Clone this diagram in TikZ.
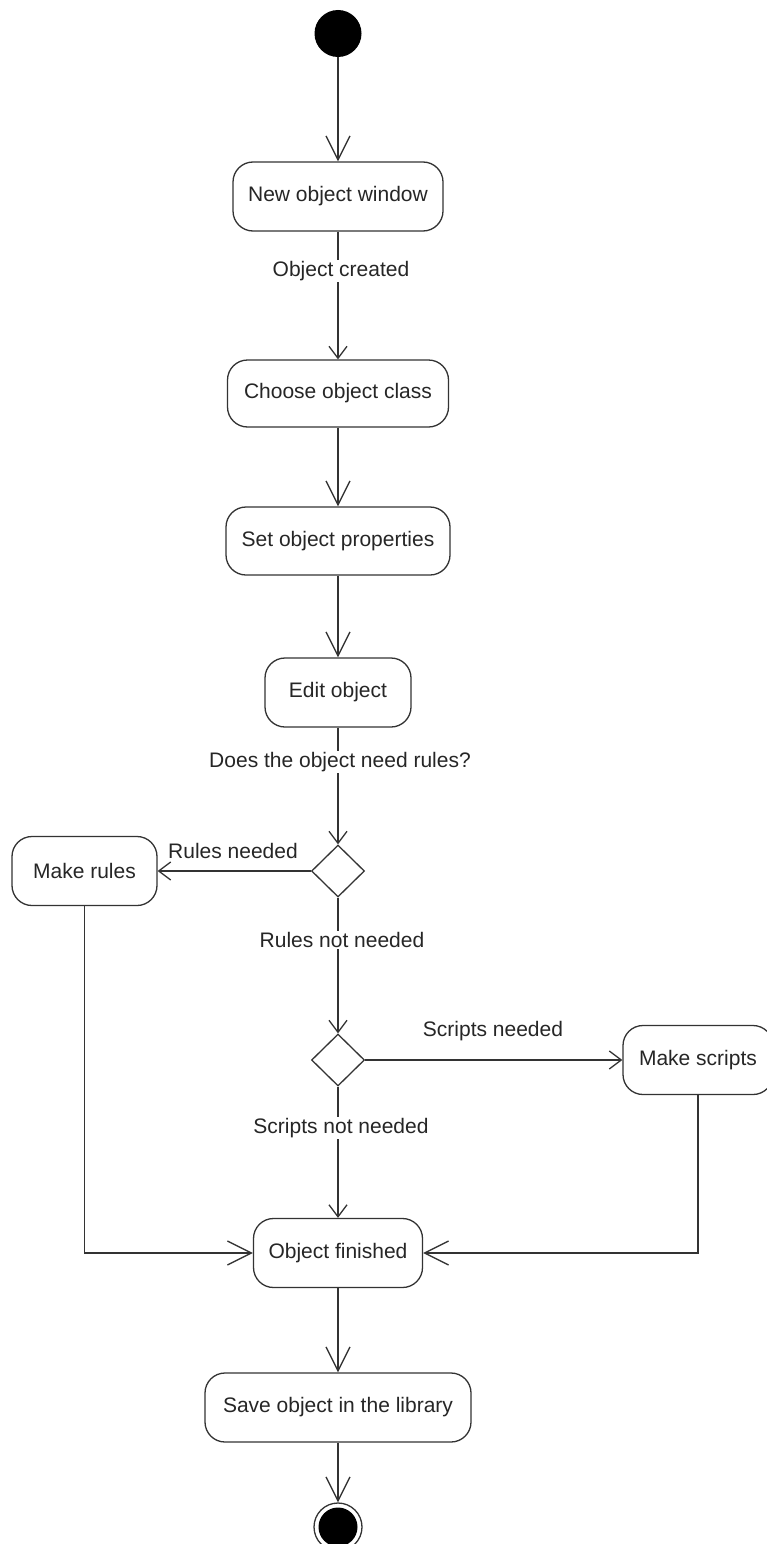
\documentclass[tikz,border=0pt]{standalone}
\usepackage{fontspec}
\setmainfont{Liberation Sans}
\usetikzlibrary{shapes.geometric,arrows.meta}
\begin{document}
\begin{tikzpicture}[x=1pt,y=-1pt,
  every node/.style={font=\fontsize{21}{25}\selectfont, text=black!85},
  act/.style={draw=black!80, line width=1.3pt, rounded corners=20pt, minimum height=69pt, inner sep=0pt, fill=white},
  dec/.style={draw=black!80, line width=1.3pt, diamond, minimum width=53pt, minimum height=52pt, inner sep=0pt, fill=white},
  flow/.style={draw=black!80, line width=1.3pt},
  bigarr/.style={flow, -{Straight Barb[length=24pt,width=24pt]}},
  smallarr/.style={flow, -{Straight Barb[length=12pt,width=18pt]}},
  lbl/.style={fill=white, inner sep=1pt},
  plainlbl/.style={inner sep=1pt},
]
\useasboundingbox (0,0) rectangle (766,1544);

% nodes
\node[circle, fill=black, minimum size=47pt, inner sep=0pt] (start) at (338,33.5) {};
\node[act, minimum width=210pt] (new) at (338,196.5) {New object window};
\node[act, minimum width=221pt, minimum height=67pt] (choose) at (338,393.5) {Choose object class};
\node[act, minimum width=224pt, minimum height=68pt] (props) at (338,541) {Set object properties};
\node[act, minimum width=146pt] (edit) at (338,692.5) {Edit object};
\node[dec] (d1) at (338,871) {};
\node[act, minimum width=145pt] (mrules) at (84.5,871) {Make rules};
\node[dec] (d2) at (338,1060) {};
\node[act, minimum width=150pt] (mscripts) at (698,1060) {Make scripts};
\node[act, minimum width=169pt] (fin) at (338,1253) {Object finished};
\node[act, minimum width=266pt] (save) at (338,1407.5) {Save object in the library};
\node[circle, draw=black!80, line width=1.3pt, minimum size=48pt, inner sep=0pt] (end) at (338,1527) {};
\node[circle, fill=black, minimum size=39pt, inner sep=0pt] (endin) at (338,1527) {};

% connectors
\draw[bigarr] (start) -- (new);
\draw[smallarr] (new) -- (choose);
\draw[bigarr] (choose) -- (props);
\draw[bigarr] (props) -- (edit);
\draw[smallarr] (edit) -- (d1);
\draw[smallarr] (d1) -- (mrules);
\draw[smallarr] (d1) -- (d2);
\draw[smallarr] (d2) -- (mscripts);
\draw[smallarr] (d2) -- (fin);
\draw[bigarr] (mrules.south) |- (fin.west);
\draw[bigarr] (mscripts.south) |- (fin.east);
\draw[bigarr] (fin) -- (save);
\draw[bigarr] (save) -- (end);

% labels
\node[lbl] (lcreated) at (341,271) {Object created};
\node[lbl] (lneed) at (340,762) {Does the object need rules?};
\node[plainlbl] (lrules) at (233,851) {Rules needed};
\node[lbl] (lnorules) at (342,940) {Rules not needed};
\node[plainlbl] (lscripts) at (493,1031) {Scripts needed};
\node[lbl] (lnoscripts) at (341,1128) {Scripts not needed};
\end{tikzpicture}
\end{document}
